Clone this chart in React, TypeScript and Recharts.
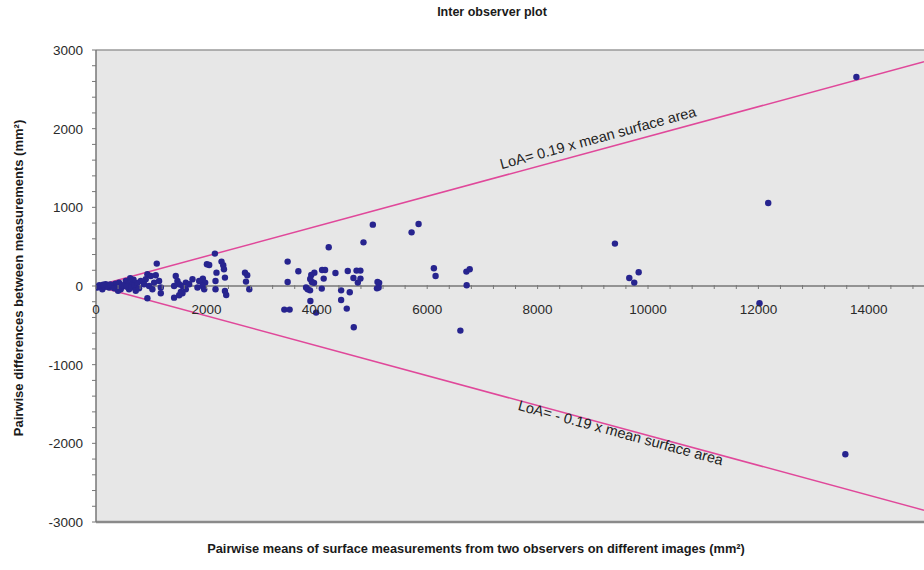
import React from 'react';
import {
  ScatterChart,
  Scatter,
  XAxis,
  YAxis,
  CartesianGrid,
  ReferenceLine,
  ReferenceDot,
} from 'recharts';

// pairwise mean (mm²) / pairwise difference (mm²)
const meanValues = [
  13775, 12178, 9401, 9661, 9751, 9831, 12020, 13575,
  5015, 5844, 5717, 4846, 6121, 6152, 6710, 6770, 6715, 6601, 5100, 5130, 5090, 5120,
  4561, 4720, 4790, 4664, 4791, 4743, 4441, 4597, 4441, 4543, 4670,
  4216, 4096, 4150, 4338, 4125, 4090, 3987,
  3472, 3666, 3956, 3900, 3880, 3910, 3950, 3472, 3806, 3835, 3878, 3884, 3412, 3508,
  2154, 2009, 2051, 2274, 2305, 2318, 2183, 2336, 2165, 2165, 2336, 2359, 2699, 2740, 2717, 2777,
  1936, 1906, 1978, 1101, 931, 993, 1083, 811, 901, 1053, 1143, 871, 962, 1022, 1174, 1174, 931,
  1445, 1475, 1415, 1506, 1566, 1627, 1688, 1627, 1537, 1415, 1506, 1566, 1748, 1869, 1838, 1929, 1960,
  539, 417, 508, 599, 659, 448, 599, 85, 176, 236, 24, 296, 115,
  350, 380, 470, 560, 640, 700, 750, 160, 60, 200, 130, 260, 330, 400, 720, 780, 680, 620,
];
const diffValues = [
  2656, 1055, 539, 102, 43, 174, -220, -2139,
  780, 788, 682, 555, 225, 127, 183, 212, 9, -567, 50, 40, -30, -20,
  191, 196, 196, 102, 94, 43, -55, -80, -178, -287, -525,
  492, 203, 203, 165, 94, -33, -338,
  310, 187, 170, 140, 90, 50, 40, 51, -20, -42, -55, -190, -300, -300,
  412, 276, 267, 310, 263, 212, 170, 107, 64, -42, -64, -114, 170, 136, 56, -42,
  94, 64, 43, 285, 149, 127, 136, 64, 85, 43, 64, 22, 0, -42, -20, -93, -156,
  127, 64, 0, 22, 0, 43, 22, -42, -76, -148, -118, -93, 85, 64, -20, 0, -42,
  64, 43, 0, 22, 43, -42, -42, 0, 22, -20, -20, 0, -42,
  30, -20, 10, -10, -20, 10, 40, -10, 10, 0, 15, 20, -30, -60, -60, -30, 80, 100,
];

const loaFactor = 0.19;
const xMax = 15000;
const yTicks = Array.from({ length: 31 }, (_, i) => -3000 + i * 200);
const xTicks = Array.from({ length: 38 }, (_, i) => i * 400);
const upperLabel = 'LoA= 0.19 x mean surface area';
const lowerLabel = 'LoA= - 0.19 x mean surface area';

const points = meanValues.map((m, i) => ({ mean: m, diff: diffValues[i] }));

const PLOT_H = 472;
const FONT = '"Liberation Sans", Arial, Helvetica, sans-serif';
const ANGLE = 15.2;

const XTick = (props: any) => {
  const { x, y, payload } = props;
  const y0 = y - PLOT_H / 2;
  const major = payload.value % 2000 === 0;
  return (
    <g>
      <line x1={x} x2={x} y1={y0 - 1} y2={y0 + 3} stroke="#777" strokeWidth={1} />
      {major && (
        <text x={x} y={y0 + 28} textAnchor="middle" fontSize={13.5} fill="#2a2a2a" fontFamily={FONT}>
          {payload.value}
        </text>
      )}
    </g>
  );
};

const YTick = (props: any) => {
  const { x, y, payload } = props;
  const major = payload.value % 1000 === 0;
  return (
    <g>
      <line x1={x - 4} x2={x} y1={y} y2={y} stroke="#777" strokeWidth={1} />
      {major && (
        <text x={x - 13} y={y + 5} textAnchor="end" fontSize={13.5} fill="#2a2a2a" fontFamily={FONT}>
          {payload.value}
        </text>
      )}
    </g>
  );
};

const rotatedText = (text: string, angle: number) => (p: any) => (
  <text
    x={p.cx}
    y={p.cy}
    transform={`rotate(${angle} ${p.cx} ${p.cy})`}
    textAnchor="middle"
    dominantBaseline="middle"
    fontSize={14.5}
    fill="#222"
    fontFamily={FONT}
  >
    {text}
  </text>
);

const labelStyle: React.CSSProperties = {
  position: 'absolute',
  fontWeight: 'bold',
  whiteSpace: 'nowrap',
  zIndex: 2,
  lineHeight: 'normal',
};

export default function App() {
  return (
    <div style={{ position: 'absolute', left: 0, top: 0, width: 924, height: 570, background: '#fff', fontFamily: FONT, color: '#1a1a1a' }}>
      <ScatterChart width={924} height={570} margin={{ top: 50, right: 0, bottom: 0, left: 0 }}>
        <CartesianGrid fill="#e7e7e7" horizontal={false} vertical={false} />
        <XAxis
          type="number"
          dataKey="mean"
          domain={[0, xMax]}
          ticks={xTicks}
          interval={0}
          height={48}
          tickSize={0}
          tickMargin={0}
          tickLine={false}
          tick={<XTick />}
          axisLine={{ stroke: '#8a8a8a', strokeWidth: 2.5 }}
          allowDataOverflow
        />
        <YAxis
          type="number"
          dataKey="diff"
          domain={[-3000, 3000]}
          ticks={yTicks}
          interval={0}
          width={96}
          tickSize={0}
          tickMargin={0}
          tickLine={false}
          tick={<YTick />}
          axisLine={{ stroke: '#777', strokeWidth: 1.5 }}
          allowDataOverflow
        />
        <ReferenceLine y={3000} stroke="#9a9a9a" strokeWidth={1.5} />
        <ReferenceLine y={0} stroke="#777" strokeWidth={1.5} />
        <ReferenceLine
          segment={[{ x: 0, y: 0 }, { x: xMax, y: loaFactor * xMax }]}
          stroke="#e0489a"
          strokeWidth={1.5}
        />
        <ReferenceLine
          segment={[{ x: 0, y: 0 }, { x: xMax, y: -loaFactor * xMax }]}
          stroke="#e0489a"
          strokeWidth={1.5}
        />
        <ReferenceDot x={9100} y={1870} shape={rotatedText(upperLabel, -ANGLE)} />
        <ReferenceDot x={9500} y={-1880} shape={rotatedText(lowerLabel, ANGLE)} />
        <Scatter
          data={points}
          isAnimationActive={false}
          shape={(p: any) => <circle cx={p.cx} cy={p.cy} r={3.2} fill="#27248f" />}
        />
      </ScatterChart>
      <div style={{ ...labelStyle, left: 492, top: 5, transform: 'translateX(-50%)', fontSize: 12.5 }}>
        Inter observer plot
      </div>
      <div style={{ ...labelStyle, left: 476, top: 541, transform: 'translateX(-50%)', fontSize: 12.8 }}>
        Pairwise means of surface measurements from two observers on different images (mm²)
      </div>
      <div style={{ ...labelStyle, left: 18, top: 278, transform: 'translate(-50%, -50%) rotate(-90deg)', fontSize: 13 }}>
        Pairwise differences between measurements (mm²)
      </div>
    </div>
  );
}
